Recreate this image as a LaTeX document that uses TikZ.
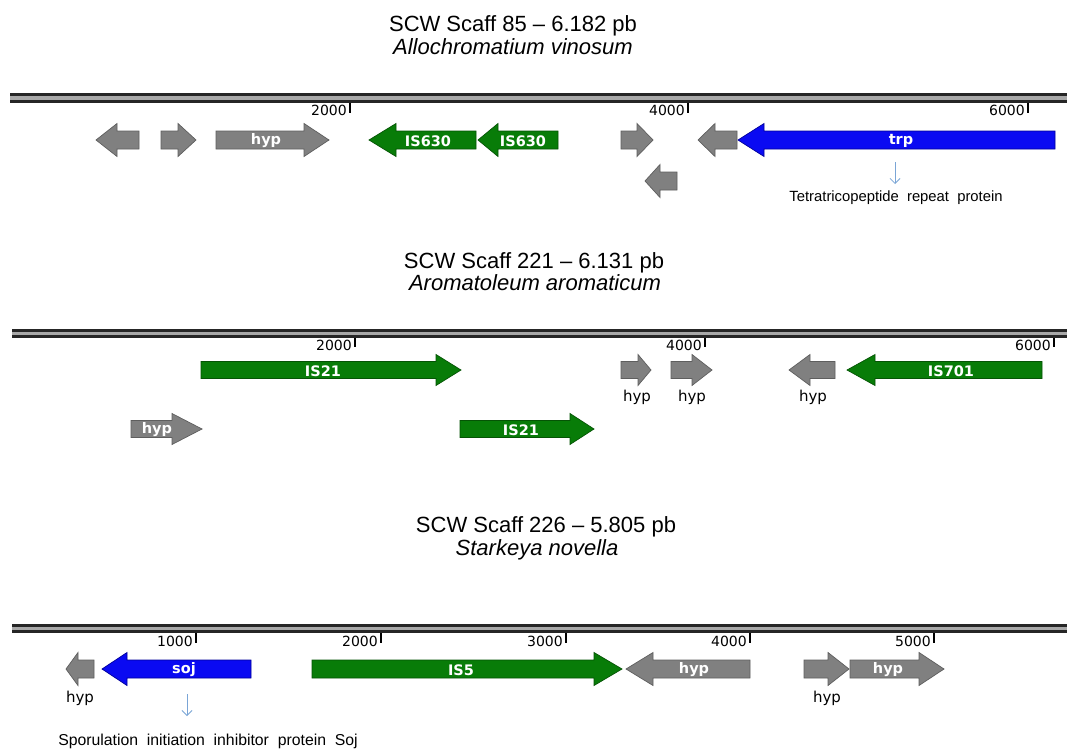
\documentclass[tikz,border=0pt]{standalone}
\usepackage{fontspec}
\setmainfont{Liberation Sans}
\newfontfamily\verd{DejaVu Sans}
\usetikzlibrary{arrows.meta}
\definecolor{genegray}{HTML}{808080}
\definecolor{genegrayd}{HTML}{5E5E5E}
\definecolor{genegreen}{HTML}{087C08}
\definecolor{genegreend}{HTML}{055405}
\definecolor{geneblue}{HTML}{0A0AF2}
\definecolor{genebluend}{HTML}{00009A}
\definecolor{backdark}{HTML}{262626}
\definecolor{backmid}{HTML}{A8A8A8}
\definecolor{annotblue}{HTML}{7AA5D6}
\newcommand\bh{9}
\newcommand\hh{16.5}
% right-pointing gene: tail, head base, tip, centre y, style
\newcommand\geneR[5]{\draw[#5] ({#1},{#4-\bh}) -- ({#2},{#4-\bh}) -- ({#2},{#4-\hh}) -- ({#3},{#4}) -- ({#2},{#4+\hh}) -- ({#2},{#4+\bh}) -- ({#1},{#4+\bh}) -- cycle;}
% left-pointing gene: tip, head base, tail, centre y, style
\newcommand\geneL[5]{\draw[#5] ({#3},{#4-\bh}) -- ({#2},{#4-\bh}) -- ({#2},{#4-\hh}) -- ({#1},{#4}) -- ({#2},{#4+\hh}) -- ({#2},{#4+\bh}) -- ({#3},{#4+\bh}) -- cycle;}
% backbone: x start, x end, top y
\newcommand\backbone[3]{%
  \fill[backdark] ({#1},{#3}) rectangle ({#2},{#3+3});
  \fill[backmid] ({#1},{#3+3}) rectangle ({#2},{#3+6.5});
  \fill[backdark] ({#1},{#3+6.5}) rectangle ({#2},{#3+9.5});}
\tikzset{
  graygene/.style={fill=genegray, draw=genegrayd, line width=0.7pt},
  greengene/.style={fill=genegreen, draw=genegreend, line width=0.7pt},
  bluegene/.style={fill=geneblue, draw=genebluend, line width=0.7pt},
  genelbl/.style={text=white, font=\verd\bfseries\fontsize{14.5}{14.5}\selectfont, inner sep=0pt},
  ticklbl/.style={font=\verd\fontsize{14}{14}\selectfont, anchor=base east, inner sep=0pt},
  tickmark/.style={line width=1.8pt, black},
  hyplbl/.style={font=\verd\fontsize{15}{15}\selectfont, inner sep=0pt},
  titlelbl/.style={font=\fontsize{22}{24}\selectfont, anchor=base, inner sep=0pt},
  specieslbl/.style={font=\itshape\fontsize{22}{24}\selectfont, anchor=base, inner sep=0pt},
  annottxt/.style={font=\fontsize{14.8}{15}\selectfont, anchor=base, inner sep=0pt},
  annotarrow/.style={annotblue, line width=0.8pt, -{Straight Barb[length=5pt,width=10pt]}}
}
\begin{document}
\begin{tikzpicture}[x=1pt,y=-1pt]
\useasboundingbox (0,0) rectangle (1067,749);
\fill[white] (0,0) rectangle (1067,749);

% ---------------- Track 1 ----------------
\node[titlelbl] (t1) at (513,32) {SCW Scaff 85 -- 6.182 pb};
\node[specieslbl] (s1) at (513,55) {Allochromatium vinosum};
\backbone{10}{1067}{93.5}
\foreach \x/\l [count=\i] in {350/2000, 688/4000, 1028/6000}{
  \draw[tickmark] (\x,103) -- (\x,113);
  \node[ticklbl] (tk1\i) at (\x-3,116) {\l};
}
\geneL{96}{117}{139}{140}{graygene}
\geneR{161}{178}{196}{140}{graygene}
\geneR{216}{304}{329}{140}{graygene}
\node[genelbl] (h1a) at (266,141) {hyp};
\geneL{369}{396}{476}{140}{greengene}
\node[genelbl] (is630a) at (428,141) {IS630};
\geneL{478}{498}{558}{140}{greengene}
\node[genelbl] (is630b) at (523,141) {IS630};
\geneR{621}{637}{653}{140}{graygene}
\geneL{645}{660}{677}{181}{graygene}
\geneL{698}{715}{737}{140}{graygene}
\geneL{738}{764}{1055}{140}{bluegene}
\node[genelbl] (trp) at (901,141) {trp};
\coordinate (trpsrc) at (895,162);
\coordinate (trpdst) at (895,184);
\draw[annotarrow] (trpsrc) -- (trpdst);
\node[annottxt] (trpnote) at (896,201) {Tetratricopeptide\ \ repeat\ \ protein};

% ---------------- Track 2 ----------------
\node[titlelbl] (t2) at (534,268) {SCW Scaff 221 -- 6.131 pb};
\node[specieslbl] (s2) at (535,290) {Aromatoleum aromaticum};
\backbone{12}{1067}{328.5}
\foreach \x/\l [count=\i] in {355/2000, 705/4000, 1054/6000}{
  \draw[tickmark] (\x,338) -- (\x,347);
  \node[ticklbl] (tk2\i) at (\x-3,350) {\l};
}
\renewcommand\bh{8.5}
\renewcommand\hh{15.5}
\geneR{201}{436}{461}{370}{greengene}
\node[genelbl] (is21a) at (323,371) {IS21};
\geneR{621}{638}{651}{370}{graygene}
\node[hyplbl] (h2a) at (637,397) {hyp};
\geneR{671}{692}{712}{370}{graygene}
\node[hyplbl] (h2b) at (692,397) {hyp};
\geneL{789}{810}{835}{370}{graygene}
\node[hyplbl] (h2c) at (813,397) {hyp};
\geneL{847}{875}{1042}{370}{greengene}
\node[genelbl] (is701) at (951,371) {IS701};
\geneR{131}{172}{202}{429}{graygene}
\node[genelbl] (h2d) at (157,430) {hyp};
\geneR{460}{570}{594}{429}{greengene}
\node[genelbl] (is21b) at (521,430) {IS21};

% ---------------- Track 3 ----------------
\node[titlelbl] (t3) at (546,532) {SCW Scaff 226 -- 5.805 pb};
\node[specieslbl] (s3) at (537,555) {Starkeya novella};
\backbone{12}{1067}{623.5}
\foreach \x/\l [count=\i] in {196/1000, 381/2000, 566/3000, 750/4000, 934/5000}{
  \draw[tickmark] (\x,633) -- (\x,643);
  \node[ticklbl] (tk3\i) at (\x-3,646) {\l};
}
\renewcommand\bh{9}
\renewcommand\hh{16.5}
\geneL{66}{78}{94}{669}{graygene}
\node[hyplbl] (h3a) at (80,698) {hyp};
\geneL{102}{127}{251}{669}{bluegene}
\node[genelbl] (soj) at (184,670) {soj};
\coordinate (sojsrc) at (187,694);
\coordinate (sojdst) at (187,716);
\draw[annotarrow] (sojsrc) -- (sojdst);
\node[annottxt, font=\fontsize{15.8}{16}\selectfont] (sojnote) at (208,745) {Sporulation\ \ initiation\ \ inhibitor\ \ protein\ \ Soj};
\geneR{312}{594}{622}{669}{greengene}
\node[genelbl] (is5) at (461,670) {IS5};
\geneL{626}{653}{750}{669}{graygene}
\node[genelbl] (h3b) at (694,670) {hyp};
\geneR{804}{828}{849}{669}{graygene}
\node[hyplbl] (h3c) at (827,698) {hyp};
\geneR{850}{919}{944}{669}{graygene}
\node[genelbl] (h3d) at (888,670) {hyp};
\end{tikzpicture}
\end{document}
